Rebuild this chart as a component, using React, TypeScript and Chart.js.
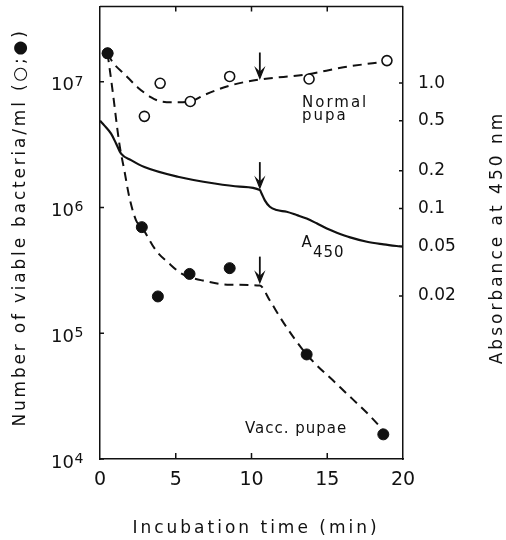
import React, { useEffect, useRef } from "react";
import { Chart, registerables } from "chart.js";

Chart.register(...registerables);

// ---- data ----
const normalTime = [0.5, 2.93, 3.97, 5.96, 8.56, 13.8, 18.94];
const normalCount = [1.68e7, 5.3e6, 9.7e6, 6.95e6, 1.1e7, 1.05e7, 1.47e7];

const vaccTime = [0.5, 2.76, 3.82, 5.91, 8.56, 13.64, 18.7];
const vaccCount = [1.68e7, 6.97e5, 1.96e5, 2.96e5, 3.29e5, 6.78e4, 1.57e4];

const normalFitTime = [0.5, 0.83, 1.61, 2.49, 3.38, 4.04, 4.92, 5.96, 6.9, 8.56, 10.55, 13.64, 16.07, 18.94];
const normalFitCount = [1.68e7, 1.43e7, 1.15e7, 9.0e6, 7.5e6, 6.95e6, 6.85e6, 6.95e6, 7.85e6, 9.3e6, 1.04e7, 1.14e7, 1.3e7, 1.45e7];

const vaccFitTime = [0.5, 0.83, 1.28, 1.61, 1.94, 2.38, 2.76, 3.7, 4.59, 5.25, 5.91, 6.8, 8.56, 10.55, 11.21, 12.1, 13.64, 15.85, 18.5, 19.16];
const vaccFitCount = [1.68e7, 8.5e6, 3.2e6, 1.96e6, 1.2e6, 7.9e5, 6.97e5, 4.54e5, 3.56e5, 3.05e5, 2.79e5, 2.62e5, 2.43e5, 2.39e5, 1.82e5, 1.22e5, 6.78e4, 3.72e4, 1.79e4, 1.4e4];

const absTime = [0, 0.28, 0.73, 1.06, 1.39, 2.05, 2.93, 5.14, 7.57, 9.22, 10.55, 10.66, 10.88, 11.21, 11.66, 12.32, 12.98, 13.64, 14.3, 14.97, 15.63, 16.51, 17.62, 18.72, 20];
const absValue = [0.5, 0.46, 0.395, 0.33, 0.274, 0.243, 0.214, 0.179, 0.158, 0.149, 0.14, 0.132, 0.116, 0.103, 0.097, 0.094, 0.0885, 0.083, 0.076, 0.069, 0.064, 0.0587, 0.0542, 0.0517, 0.0494];

// arrows (time of addition, value pointed at on each curve)
const arrowTime = 10.55;
const arrowNormal = 1.04e7;
const arrowVacc = 2.39e5;
const arrowAbs = 0.14;

// ticks
const xTicks = [0, 5, 10, 15, 20];
const xInnerTicks = [5, 10, 15];
const countExponents = [4, 5, 6, 7];
const absTicks = [0.02, 0.05, 0.1, 0.2, 0.5, 1.0];

// texts
const xTitle = "Incubation time (min)";
const leftTitle = "Number of viable bacteria/ml (\u25CB;\u25CF)";
const rightTitle = "Absorbance at 450 nm";

const INK = "#111";
const FONT = "'DejaVu Sans', sans-serif";

const zip = (xs: number[], ys: number[]) => xs.map((x, i) => ({ x, y: ys[i] }));

function drawText(ctx: CanvasRenderingContext2D, text: string, x: number, y: number, size: number, spacing: number, align: CanvasTextAlign = "left") {
  ctx.font = `${size}px ${FONT}`;
  (ctx as any).letterSpacing = `${spacing}px`;
  ctx.textAlign = align;
  ctx.textBaseline = "alphabetic";
  ctx.fillText(text, x, y);
  (ctx as any).letterSpacing = "0px";
}

function drawArrow(ctx: CanvasRenderingContext2D, x: number, tip: number) {
  ctx.lineWidth = 1.8;
  ctx.beginPath();
  ctx.moveTo(x, tip - 26);
  ctx.lineTo(x, tip - 4);
  ctx.stroke();
  ctx.beginPath();
  ctx.moveTo(x - 4, tip - 10);
  ctx.lineTo(x, tip - 6);
  ctx.lineTo(x + 4, tip - 10);
  ctx.lineTo(x, tip);
  ctx.closePath();
  ctx.fill();
  ctx.lineWidth = 1.2;
  ctx.stroke();
}

const zeroPad = (s: any) => {
  s.paddingTop = 0;
  s.paddingBottom = 0;
  s.paddingLeft = 0;
  s.paddingRight = 0;
};

const decorPlugin = {
  id: "decor",
  afterDraw(chart: any) {
    const ctx: CanvasRenderingContext2D = chart.ctx;
    const { left, right, top, bottom } = chart.chartArea;
    const xs = chart.scales.x;
    const yl = chart.scales.y;
    const yr = chart.scales.y2;
    ctx.save();
    ctx.strokeStyle = INK;
    ctx.fillStyle = INK;
    ctx.lineWidth = 1.5;
    ctx.lineCap = "butt";
    ctx.lineJoin = "miter";
    // top frame
    ctx.beginPath();
    ctx.moveTo(left, top);
    ctx.lineTo(right, top);
    ctx.stroke();
    // inward ticks
    ctx.beginPath();
    xInnerTicks.forEach((v) => {
      const x = xs.getPixelForValue(v);
      ctx.moveTo(x, bottom);
      ctx.lineTo(x, bottom - 6);
      ctx.moveTo(x, top);
      ctx.lineTo(x, top + 5);
    });
    countExponents.forEach((e) => {
      const y = yl.getPixelForValue(Math.pow(10, e));
      ctx.moveTo(left, y);
      ctx.lineTo(left + 4, y);
    });
    absTicks.forEach((v) => {
      const y = yr.getPixelForValue(v);
      ctx.moveTo(right, y);
      ctx.lineTo(right - 4, y);
    });
    ctx.stroke();

    // left tick labels 10^n
    countExponents.forEach((e) => {
      const y = yl.getPixelForValue(Math.pow(10, e));
      drawText(ctx, "10", 74, y + 8.5, 18, 0, "right");
      drawText(ctx, String(e), 74.5, y + 4, 14, 0, "left");
    });

    // arrows
    const ax = xs.getPixelForValue(arrowTime);
    drawArrow(ctx, ax, yl.getPixelForValue(arrowNormal) - 1);
    drawArrow(ctx, ax, yl.getPixelForValue(arrowVacc) - 3);
    drawArrow(ctx, ax, yr.getPixelForValue(arrowAbs) - 2);

    // annotations
    drawText(ctx, "Normal", 302, 106.5, 15, 2);
    drawText(ctx, "pupa", 302, 120, 15, 2);
    drawText(ctx, "A", 301.5, 247, 15, 0);
    drawText(ctx, "450", 313, 256.5, 15, 1);
    drawText(ctx, "Vacc. pupae", 245, 432.5, 15, 1);

    // axis titles
    drawText(ctx, xTitle, 256, 533, 17, 3, "center");
    ctx.save();
    ctx.translate(25, 227.5);
    ctx.rotate(-Math.PI / 2);
    drawText(ctx, leftTitle, 0, 0, 17, 2.8, "center");
    ctx.restore();
    ctx.save();
    ctx.translate(502, 237.5);
    ctx.rotate(-Math.PI / 2);
    drawText(ctx, rightTitle, 0, 0, 17, 3, "center");
    ctx.restore();

    ctx.restore();
  },
};

export default function App() {
  const ref = useRef<HTMLCanvasElement>(null);

  useEffect(() => {
    document.body.style.margin = "0";
    const canvas = ref.current;
    if (!canvas) return;
    const chart = new Chart(canvas, {
      type: "scatter",
      data: {
        datasets: [
          {
            label: "Vacc. pupae",
            data: zip(vaccTime, vaccCount),
            yAxisID: "y",
            pointRadius: 5.5,
            pointBackgroundColor: INK,
            pointBorderColor: INK,
            pointBorderWidth: 1,
            showLine: false,
          },
          {
            label: "Normal pupa",
            data: zip(normalTime, normalCount),
            yAxisID: "y",
            pointRadius: 5,
            pointBackgroundColor: "#fff",
            pointBorderColor: INK,
            pointBorderWidth: 1.6,
            showLine: false,
          },
          {
            label: "Normal fit",
            data: zip(normalFitTime, normalFitCount),
            yAxisID: "y",
            showLine: true,
            pointRadius: 0,
            borderColor: INK,
            borderWidth: 2,
            borderDash: [9, 6],
            cubicInterpolationMode: "monotone",
          },
          {
            label: "Vacc fit",
            data: zip(vaccFitTime, vaccFitCount),
            yAxisID: "y",
            showLine: true,
            pointRadius: 0,
            borderColor: INK,
            borderWidth: 2,
            borderDash: [9, 6],
            cubicInterpolationMode: "monotone",
          },
          {
            label: "A450",
            data: zip(absTime, absValue),
            yAxisID: "y2",
            showLine: true,
            pointRadius: 0,
            borderColor: INK,
            borderWidth: 2.2,
            cubicInterpolationMode: "monotone",
          },
        ],
      } as any,
      options: {
        responsive: false,
        animation: false,
        devicePixelRatio: 1,
        layout: { padding: { top: 6, left: 0, right: 0, bottom: 0 } },
        plugins: {
          legend: { display: false },
          tooltip: { enabled: false },
        },
        scales: {
          x: {
            type: "linear",
            position: "bottom",
            min: 0,
            max: 20,
            afterBuildTicks: (s: any) => {
              s.ticks = xTicks.map((v) => ({ value: v }));
            },
            afterFit: (s: any) => {
              s.height = 81;
              zeroPad(s);
            },
            ticks: {
              color: INK,
              font: { family: FONT, size: 19 },
              padding: 10,
              maxRotation: 0,
              autoSkip: false,
            },
            grid: { display: false, drawTicks: false },
            border: { display: true, color: INK, width: 1.5 },
          },
          y: {
            type: "logarithmic",
            position: "left",
            min: 1e4,
            max: 3.95e7,
            afterBuildTicks: (s: any) => {
              s.ticks = countExponents.map((e) => ({ value: Math.pow(10, e) }));
            },
            afterFit: (s: any) => {
              s.width = 100;
              zeroPad(s);
            },
            ticks: { display: false },
            grid: { display: false, drawTicks: false },
            border: { display: true, color: INK, width: 1.5 },
          },
          y2: {
            type: "logarithmic",
            position: "right",
            min: 1.0e-3,
            max: 4.08,
            afterBuildTicks: (s: any) => {
              s.ticks = absTicks.map((v) => ({ value: v }));
            },
            afterFit: (s: any) => {
              s.width = 103;
              zeroPad(s);
            },
            ticks: {
              color: INK,
              font: { family: FONT, size: 17 },
              padding: 15,
              autoSkip: false,
              callback: (v: any) => (Number(v) === 1 ? "1.0" : String(Number(v))),
            },
            grid: { display: false, drawTicks: false },
            border: { display: true, color: INK, width: 1.5 },
          },
        },
      } as any,
      plugins: [decorPlugin],
    });
    return () => chart.destroy();
  }, []);

  return (
    <div style={{ width: 506, height: 540, background: "#fff" }}>
      <canvas ref={ref} width={506} height={540} style={{ display: "block", width: 506, height: 540 }} />
    </div>
  );
}
